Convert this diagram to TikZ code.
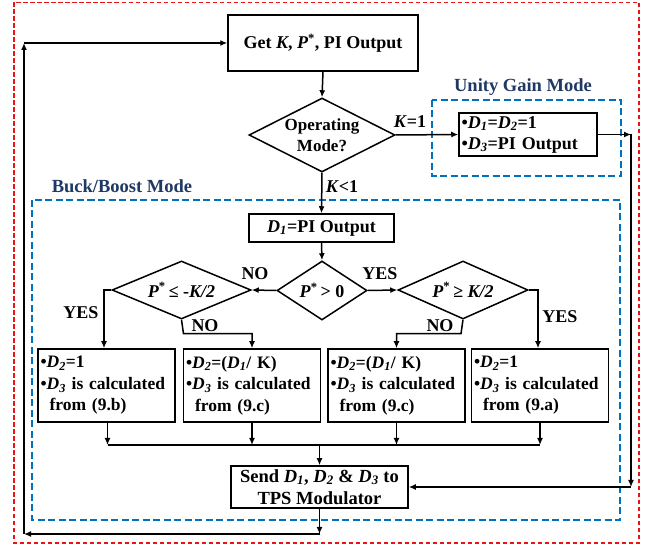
\documentclass[tikz,border=0pt]{standalone}
\usepackage{fontspec}
\setmainfont{Liberation Serif}
\usetikzlibrary{shapes.geometric,arrows.meta,calc}
\definecolor{bluedash}{RGB}{0,112,192}
\definecolor{navytxt}{RGB}{31,56,100}
\definecolor{reddash}{RGB}{235,20,20}
\newcommand\dsub[1]{\textsubscript{\textit{#1}}}
\newcommand\Pst{\textit{P}\textsuperscript{*}}
\begin{document}
\begin{tikzpicture}[x=1pt,y=-1pt,
  fnt/.style={font=\bfseries\fontsize{#1}{21}\selectfont},
  blk/.style={draw, line width=1.5pt},
  procbox/.style={blk, inner sep=2pt},
  decis/.style={blk, diamond, inner sep=0pt, shape aspect=2},
  arr/.style={line width=1.5pt, -{Latex[length=7pt,width=6pt]}},
  ln/.style={line width=1.5pt},
  lbl/.style={fnt=18, inner sep=0pt},
  modelbl/.style={fnt=18.5, text=navytxt, inner sep=0pt},
  bluebox/.style={draw=bluedash, line width=2.6pt, dash pattern=on 7pt off 3.5pt},
  rowbox/.style={procbox, text width=132pt, align=left, minimum height=73pt, inner xsep=2.5pt, font=\bfseries\fontsize{17.5}{21.5}\selectfont}
]
\useasboundingbox (0,0) rectangle (649,548);
% outer red frame
\draw[draw=reddash, line width=1.6pt, dash pattern=on 4.5pt off 2.5pt] (14,2.5) rectangle (639,543);
% blue mode frames
\draw[bluebox] (432,100) rectangle (621,176);
\draw[bluebox] (32,200) rectangle (620,520);
\node[modelbl] (ugm) at (523,87) {Unity Gain Mode};
\node[modelbl] (bbm) at (122,186) {Buck/Boost Mode};

% nodes
\node[procbox, fnt=18, minimum width=190pt, minimum height=56pt] (get) at (323,43)
  {Get \textit{K}, \Pst, PI Output};
\node[decis, minimum width=146pt, minimum height=74pt, align=center, font=\bfseries\fontsize{17}{21}\selectfont] (op) at (322,135)
  {Operating\\Mode?};
\node[procbox, minimum width=138pt, minimum height=43pt, text width=133pt, align=left, font=\bfseries\fontsize{18}{21}\selectfont] (uni) at (528,134.5)
  {•\textit{D}\dsub{1}=\textit{D}\dsub{2}=1\\•\textit{D}\dsub{3}=PI Output};
\node[procbox, fnt=18, minimum width=145pt, minimum height=28pt] (d1) at (321.5,228)
  {\textit{D}\dsub{1}=PI Output};
\node[decis, fnt=18, shape aspect=1.6, minimum width=90pt, minimum height=59pt] (pgt) at (322,290.5)
  {\Pst\,> 0};
\node[decis, fnt=18, shape aspect=2.4, minimum width=139pt, minimum height=58pt] (ple) at (181.5,290)
  {\Pst\,≤ -\textit{K/2}};
\node[decis, fnt=18, shape aspect=2.2, minimum width=130pt, minimum height=58pt] (pge) at (463,290)
  {\Pst\,≥ \textit{K/2}};

\node[rowbox] (b1) at (106.5,385.5)
  {•\textit{D}\dsub{2}=1\\•\textit{D}\dsub{3} is calculated\\\phantom{•}\,from (9.b)};
\node[rowbox] (b2) at (252,385.5)
  {•\textit{D}\dsub{2}=(\textit{D}\dsub{1}/ K)\\•\textit{D}\dsub{3} is calculated\\\phantom{•}\,from (9.c)};
\node[rowbox] (b3) at (396.5,385.5)
  {•\textit{D}\dsub{2}=(\textit{D}\dsub{1}/ K)\\•\textit{D}\dsub{3} is calculated\\\phantom{•}\,from (9.c)};
\node[rowbox] (b4) at (540,385.5)
  {•\textit{D}\dsub{2}=1\\•\textit{D}\dsub{3} is calculated\\\phantom{•}\,from (9.a)};

\node[procbox, minimum width=177pt, minimum height=42pt, align=center, font=\bfseries\fontsize{18.5}{22}\selectfont] (send) at (319.5,487)
  {Send \textit{D}\dsub{1}, \textit{D}\dsub{2} \& \textit{D}\dsub{3} to\\TPS Modulator};

% coordinates
\coordinate (c1) at (319.5,534);
\coordinate (c2) at (24,534);
\coordinate (c3) at (24,43);
\coordinate (c4) at (631,134.5);
\coordinate (c5) at (631,487);
\coordinate (ly) at (104,290);
\coordinate (ry) at (538,290);
\coordinate (m) at (319.5,445);

% connectors
\draw[arr] (get.south) -- (op.north);
\draw[arr] (op.east) -- (uni.west);
\draw[arr] (uni.east) -- (c4);
\draw[arr] (c4) -- (c5);
\draw[arr] (c5) -- (send.east);
\draw[arr] (op.south) -- (d1.north);
\draw[arr] (d1.south) -- (pgt.north);
\draw[arr] (pgt.west) -- (ple.east);
\draw[arr] (pgt.east) -- (pge.west);
\draw[arr] (ple.west) -- (ly) -- (ly |- b1.north);
\draw[arr] (pge.east) -- (ry) -- (ry |- b4.north);
\draw[arr] (ple.south) -- ++(2,14) -| (b2.north);
\draw[arr] (pge.south) -- ++(-2,14) -| (b3.north);
\draw[arr] ([xshift=1pt]b1.south) -- ([xshift=1pt]b1.south |- m);
\draw[arr] (b2.south) -- (b2.south |- m);
\draw[arr] (b3.south) -- (b3.south |- m);
\draw[arr] (b4.south) -- (b4.south |- m);
\draw[ln] ([xshift=1pt]b1.south |- m) -- (b4.south |- m);
\draw[arr] (m) -- (send.north);
\draw[arr] (send.south) -- (c1);
\draw[arr] (c1) -- (c2);
\draw[arr] (c2) -- (c3);
\draw[arr] (c3) -- (get.west);

% labels
\node[lbl] at (410,122) {\textit{K}=1};
\node[lbl] at (342,187) {\textit{K}<1};
\node[lbl] at (255,274) {NO};
\node[lbl] at (380,274) {YES};
\node[lbl] at (81,313) {YES};
\node[lbl] at (205,326) {NO};
\node[lbl] at (440,326) {NO};
\node[lbl] at (560,317) {YES};
\end{tikzpicture}
\end{document}
